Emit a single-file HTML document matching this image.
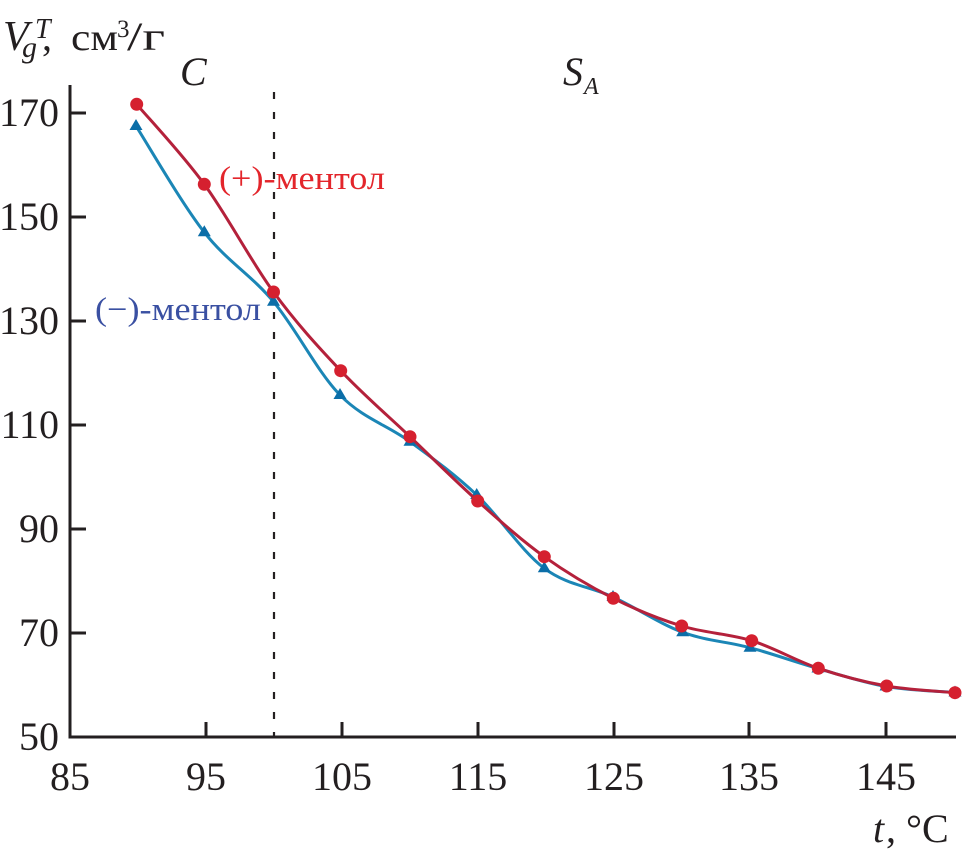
<!DOCTYPE html>
<html><head><meta charset="utf-8"><style>
html,body{margin:0;padding:0;background:#fff;}
svg{display:block;}
text{font-family:"Liberation Serif",serif;fill:#231f20;}
</style></head><body>
<svg width="962" height="853" viewBox="0 0 962 853" xmlns="http://www.w3.org/2000/svg">
<!-- axes -->
<g stroke="#231f20" stroke-width="3" fill="none">
<line x1="70" y1="85" x2="70" y2="738.5"/>
<line x1="68.5" y1="737" x2="956" y2="737"/>
<line x1="70" y1="113" x2="86" y2="113"/>
<line x1="70" y1="217" x2="86" y2="217"/>
<line x1="70" y1="321" x2="86" y2="321"/>
<line x1="70" y1="425" x2="86" y2="425"/>
<line x1="70" y1="529" x2="86" y2="529"/>
<line x1="70" y1="633" x2="86" y2="633"/>
<line x1="70" y1="737" x2="86" y2="737"/>
<line x1="206" y1="722" x2="206" y2="737"/>
<line x1="342" y1="722" x2="342" y2="737"/>
<line x1="478" y1="722" x2="478" y2="737"/>
<line x1="614" y1="722" x2="614" y2="737"/>
<line x1="749" y1="722" x2="749" y2="737"/>
<line x1="886" y1="722" x2="886" y2="737"/>
</g>
<line x1="274" y1="92" x2="274" y2="737" stroke="#231f20" stroke-width="2.2" stroke-dasharray="7,13"/>

<!-- y tick labels -->
<g font-size="40" text-anchor="end">
<text x="59" y="126">170</text>
<text x="59" y="230">150</text>
<text x="59" y="334">130</text>
<text x="59" y="438">110</text>
<text x="59" y="542">90</text>
<text x="59" y="646">70</text>
<text x="59" y="750">50</text>
</g>
<!-- x tick labels -->
<g font-size="40" text-anchor="middle">
<text x="70" y="790">85</text>
<text x="206" y="790">95</text>
<text x="342" y="790">105</text>
<text x="478" y="790">115</text>
<text x="614" y="790">125</text>
<text x="749" y="790">135</text>
<text x="886" y="790">145</text>
</g>

<!-- axis titles -->
<text x="3" y="50" font-size="42" font-style="italic">V</text>
<text x="35" y="38" font-size="28" font-style="italic">T</text>
<text x="22" y="57" font-size="30" font-style="italic">g</text>
<text x="42" y="50" font-size="40">,</text>
<text x="71" y="50" font-size="38" textLength="47" lengthAdjust="spacingAndGlyphs">см</text>
<text x="117" y="37" font-size="25">3</text>
<text x="127" y="50" font-size="40" textLength="38" lengthAdjust="spacingAndGlyphs">/г</text>

<text x="873" y="842" font-size="40" font-style="italic">t</text>
<text x="886" y="842" font-size="40">, °C</text>

<text x="180" y="85" font-size="40" font-style="italic">C</text>
<text x="563" y="85" font-size="40" font-style="italic">S</text>
<text x="584" y="94" font-size="24" font-style="italic">A</text>

<!-- blue series -->
<path d="M136,126 C147.38,143.72 181.38,203.02 204.3,232.3 C227.22,261.58 250.88,274.58 273.5,301.7 C296.12,328.82 317.25,371.67 340,395 C362.75,418.33 387.22,425.03 410,441.7 C432.78,458.37 454.32,473.9 476.7,495 C499.08,516.1 521.58,551.3 544.3,568.3 C567.02,585.3 589.93,586.33 613,597 C636.07,607.67 659.87,623.85 682.7,632.3 C705.53,640.75 727.45,641.67 750,647.7 C772.55,653.73 795.33,662.03 818,668.5 C840.67,674.97 863.17,682.5 886,686.5 C908.83,690.5 943.5,691.5 955,692.5" fill="none" stroke="#1b86b6" stroke-width="3"/>
<g fill="#0b6ea8">
<path d="M136,119 l6.5,11 h-13z"/>
<path d="M204.3,225.3 l6.5,11 h-13z"/>
<path d="M273.5,294.7 l6.5,11 h-13z"/>
<path d="M340,388 l6.5,11 h-13z"/>
<path d="M410,434.7 l6.5,11 h-13z"/>
<path d="M476.7,488 l6.5,11 h-13z"/>
<path d="M544.3,561.3 l6.5,11 h-13z"/>
<path d="M613,590 l6.5,11 h-13z"/>
<path d="M682.7,625.3 l6.5,11 h-13z"/>
<path d="M750,640.7 l6.5,11 h-13z"/>
<path d="M818,661.5 l6.5,11 h-13z"/>
<path d="M886,679.5 l6.5,11 h-13z"/>
<path d="M955,685.5 l6.5,11 h-13z"/>
</g>

<!-- red series -->
<path d="M136.7,104.3 C147.97,117.63 181.5,153.02 204.3,184.3 C227.1,215.58 250.77,260.93 273.5,292 C296.23,323.07 317.95,346.58 340.7,370.7 C363.45,394.82 387.17,414.98 410,436.7 C432.83,458.42 455.32,481 477.7,501 C500.08,521 521.7,540.48 544.3,556.7 C566.9,572.92 590.4,586.75 613.3,598.3 C636.2,609.850 658.63,618.93 681.7,626 C704.77,633.07 728.93,633.65 751.7,640.7 C774.47,647.75 795.8,660.75 818.3,668.3 C840.8,675.85 863.92,681.93 886.7,686 C909.48,690.07 943.62,691.58 955,692.7" fill="none" stroke="#b4213b" stroke-width="3"/>
<g fill="#d5202f">
<circle cx="136.7" cy="104.3" r="6.5"/>
<circle cx="204.3" cy="184.3" r="6.5"/>
<circle cx="273.5" cy="292" r="6.5"/>
<circle cx="340.7" cy="370.7" r="6.5"/>
<circle cx="410" cy="436.7" r="6.5"/>
<circle cx="477.7" cy="501" r="6.5"/>
<circle cx="544.3" cy="556.7" r="6.5"/>
<circle cx="613.3" cy="598.3" r="6.5"/>
<circle cx="681.7" cy="626" r="6.5"/>
<circle cx="751.7" cy="640.7" r="6.5"/>
<circle cx="818.3" cy="668.3" r="6.5"/>
<circle cx="886.7" cy="686" r="6.5"/>
<circle cx="955" cy="692.7" r="6.5"/>
</g>

<!-- series labels -->
<text x="219" y="189" font-size="33" style="fill:#e3252b" textLength="166" lengthAdjust="spacingAndGlyphs">(+)-ментол</text>
<text x="95" y="320" font-size="33" style="fill:#3a50a2" textLength="166" lengthAdjust="spacingAndGlyphs">(−)-ментол</text>
</svg>
</body></html>
